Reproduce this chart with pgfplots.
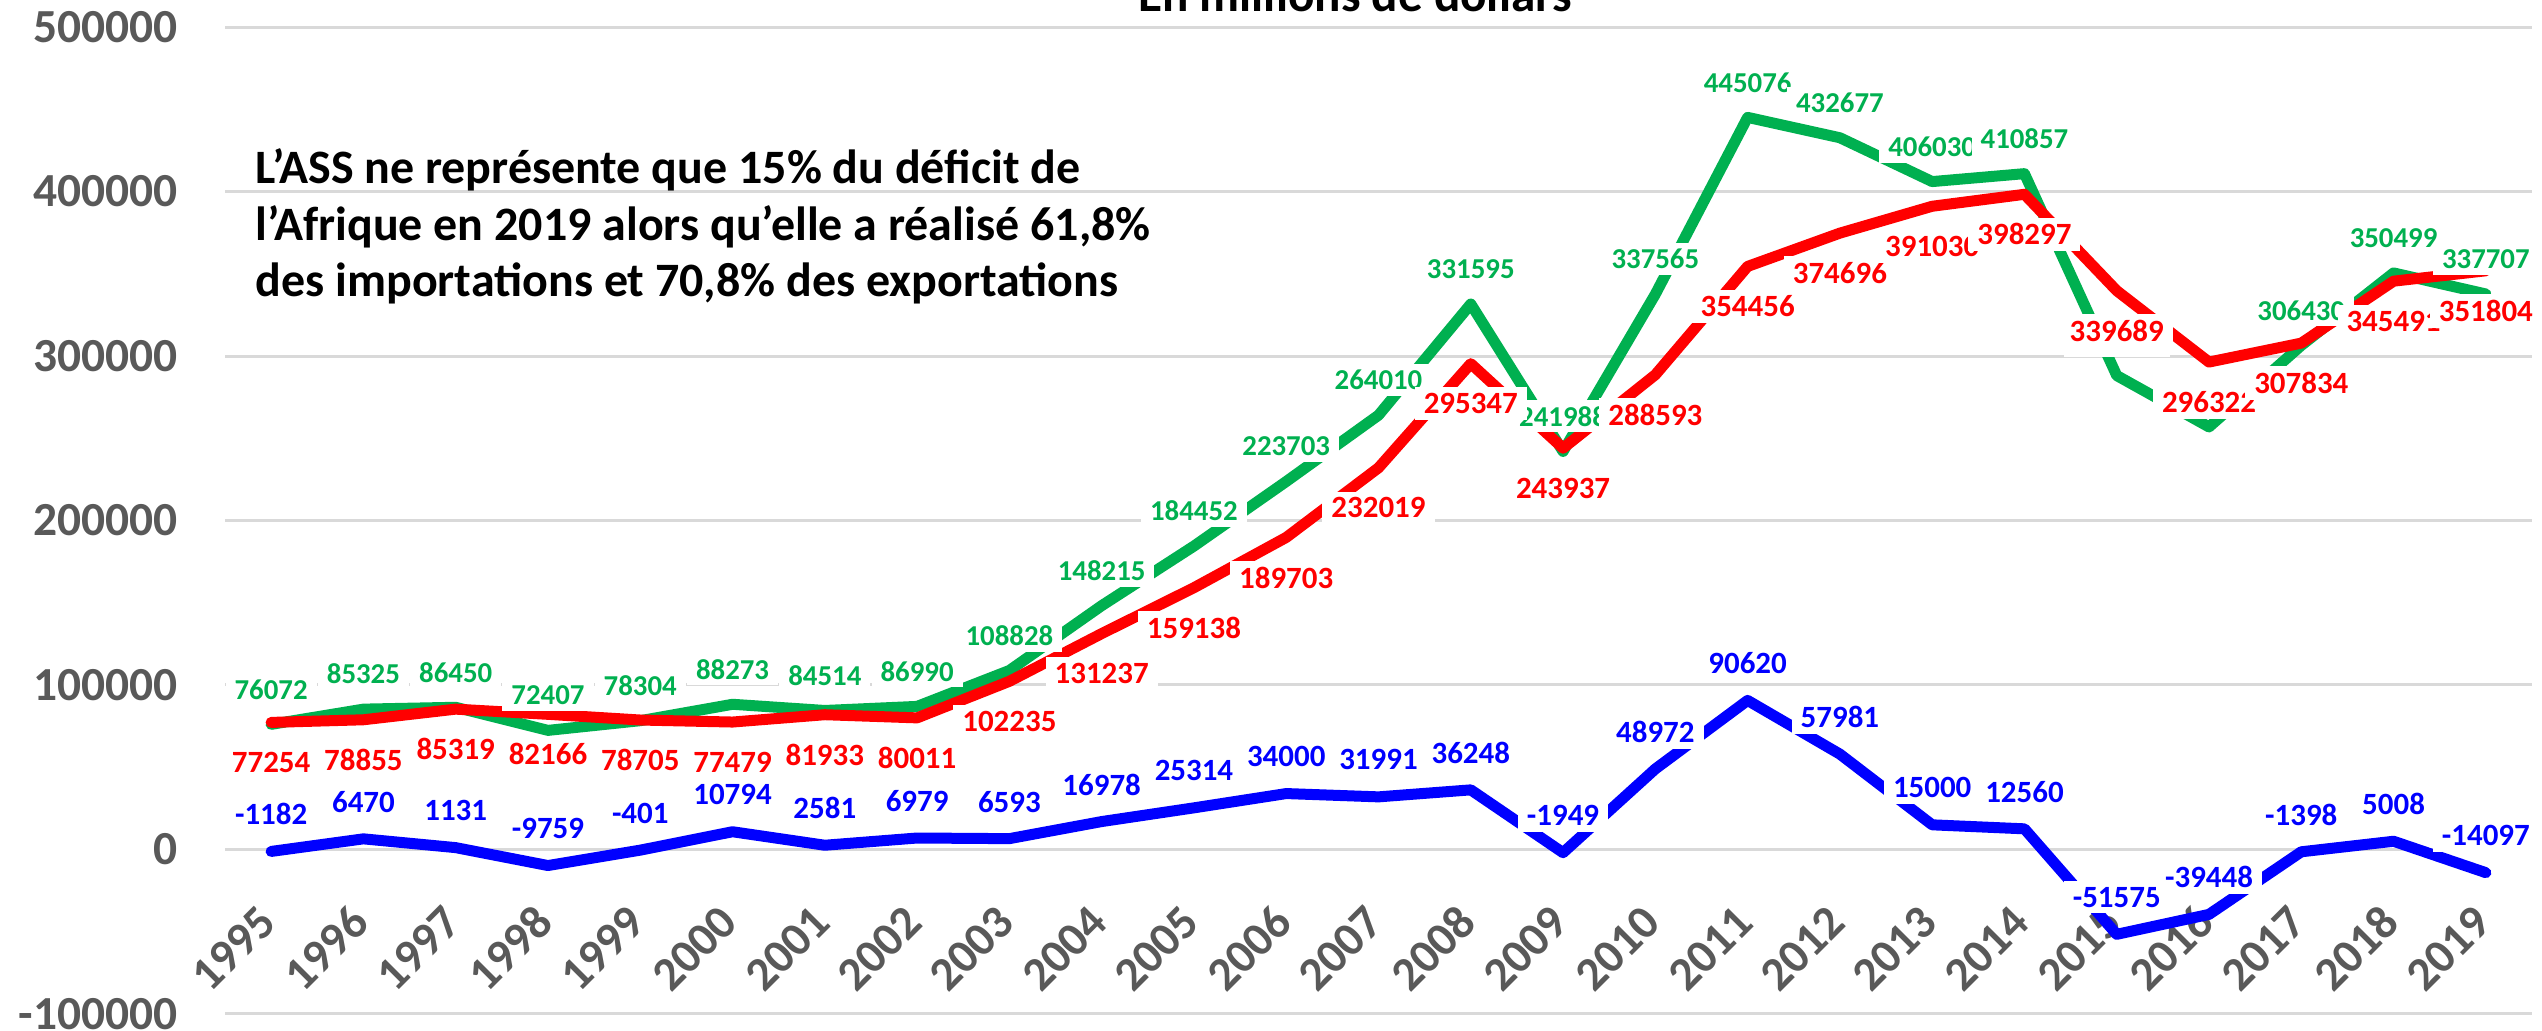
\documentclass[border=0pt]{standalone}
\usepackage{fontspec}
\setmainfont{Carlito}
\usepackage{pgfplots}
\pgfplotsset{compat=1.18}
\usepackage{pgfplotstable}
\definecolor{cgreen}{HTML}{00B050}
\definecolor{cred}{HTML}{FF0000}
\definecolor{cblue}{HTML}{0000FF}
\definecolor{cgrid}{HTML}{D9D9D9}
\definecolor{ctick}{HTML}{595959}

\pgfplotstableread{
year exp imp bal gl
1995 76072 77254 -1182 76072
1996 85325 78855 6470 85325
1997 86450 85319 1131 86450
1998 72407 82166 -9759 72407
1999 78304 78705 -401 78304
2000 88273 77479 10794 88273
2001 84514 81933 2581 84514
2002 86990 80011 6979 86990
2003 108828 102235 6593 108828
2004 148215 131237 16978 148215
2005 184452 159138 25314 184452
2006 223703 189703 34000 223703
2007 264010 232019 31991 264010
2008 331595 295347 36248 331595
2009 241988 243937 -1949 241988
2010 337565 288593 48972 337565
2011 445076 354456 90620 445076
2012 432677 374696 57981 432677
2013 406030 391030 15000 406030
2014 410857 398297 12560 410857
2015 288114 339689 -51575 \phantom{288114}
2016 256874 296322 -39448 \phantom{256874}
2017 306430 307834 -1398 306430
2018 350499 345491 5008 350499
2019 337707 351804 -14097 337707
}\data

\begin{document}
\begin{tikzpicture}
\begin{axis}[
  set layers,
  at={(22.5mm,1.7mm)}, anchor=south west,
  scale only axis, width=230.7mm, height=98.7mm,
  xmin=1994.5, xmax=2019.5, ymin=-100000, ymax=500000,
  xtick={1995,1996,1997,1998,1999,2000,2001,2002,2003,2004,2005,2006,2007,2008,2009,2010,2011,2012,2013,2014,2015,2016,2017,2018,2019},
  xticklabels={1995,1996,1997,1998,1999,2000,2001,2002,2003,2004,2005,2006,2007,2008,2009,2010,2011,2012,2013,2014,2015,2016,2017,2018,2019},
  ytick={-100000,0,100000,200000,300000,400000,500000},
  yticklabels={-100000,0,100000,200000,300000,400000,500000},
  scaled y ticks=false,
  axis line style={draw=none},
  tick style={draw=none},
  ymajorgrids, grid style={cgrid, line width=0.3mm},
  ticklabel style={font=\fontsize{13.5}{16}\selectfont\bfseries, text=ctick},
  yticklabel style={inner sep=0pt, xshift=-4.7mm},
  xticklabel style={yshift=10.0mm, xshift=-0.3mm, rotate=45, anchor=east, inner sep=0pt},
  clip=false,
  line join=round, line cap=round,
]
\addplot[cgreen, line width=1.1mm] table[x=year, y=exp]{\data};
\addplot[cred, line width=1.1mm] table[x=year, y=imp]{\data};
\addplot[cblue, line width=1.1mm] table[x=year, y=bal]{\data};

\addplot[draw=none, nodes near coords={\pgfplotspointmeta}, point meta=explicit symbolic,
  nodes near coords style={anchor=center, yshift=3.5mm, fill=white, inner xsep=0.9mm, inner ysep=0.6mm,
    font=\fontsize{8.2}{9}\selectfont\bfseries, text=cgreen}]
  table[x=year, y=exp, meta=gl]{\data};
\addplot[draw=none, nodes near coords={\pgfplotspointmeta}, point meta=explicit symbolic,
  nodes near coords style={anchor=center, yshift=-4.0mm, fill=white, inner xsep=0.9mm, inner ysep=0.6mm,
    font=\fontsize{8.8}{10}\selectfont\bfseries, text=cred}]
  table[x=year, y=imp, meta=imp]{\data};
\addplot[draw=none, nodes near coords={\pgfplotspointmeta}, point meta=explicit symbolic,
  nodes near coords style={anchor=center, yshift=3.7mm, fill=white, inner xsep=0.9mm, inner ysep=0.6mm,
    font=\fontsize{8.8}{10}\selectfont\bfseries, text=cblue}]
  table[x=year, y=bal, meta=bal]{\data};
\end{axis}
\node[anchor=base west, align=left, inner sep=0pt, font=\fontsize{13.65}{16.2}\selectfont\bfseries]
  at (25.5mm,73.4mm) {L’ASS ne représente que 15\% du déficit de\\l’Afrique en 2019 alors qu’elle a réalisé 61,8\%\\des importations et 70,8\% des exportations};
\node[anchor=base, inner sep=0pt, font=\fontsize{14}{16}\selectfont\bfseries] at (135.5mm,101.9mm) {En millions de dollars};
\pgfresetboundingbox
\useasboundingbox (0,0) rectangle (254.2mm,103.1mm);
\end{tikzpicture}
\end{document}
